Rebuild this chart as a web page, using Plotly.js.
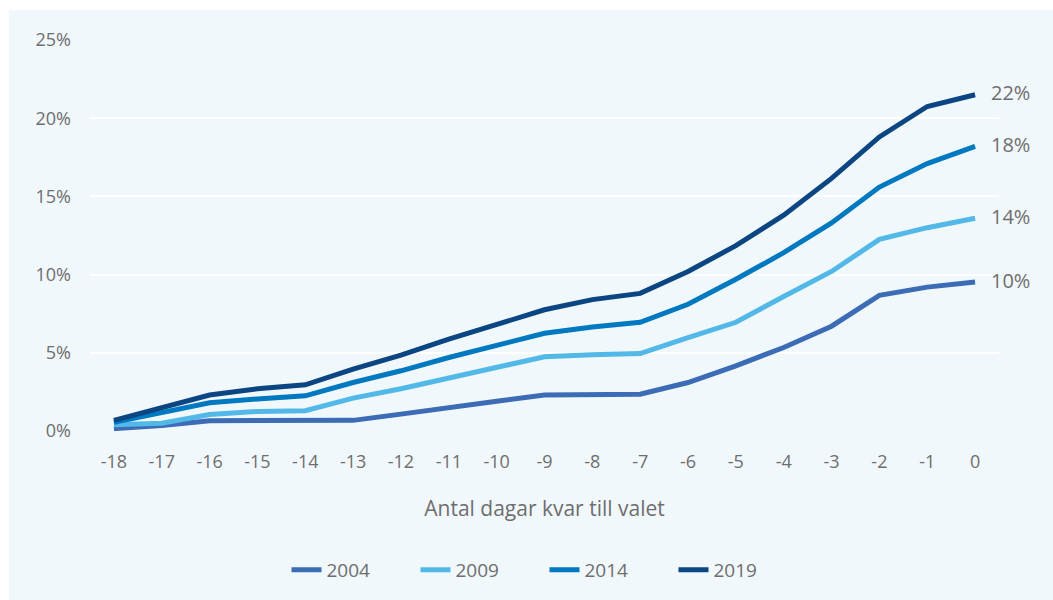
<!DOCTYPE html>
<html>
<head>
<meta charset="utf-8">
<script src="https://cdn.plot.ly/plotly-3.0.1.min.js"></script>
<style>
  html, body { margin: 0; padding: 0; background: #ffffff; }
  #chart { position: absolute; left: 9px; top: 10px; width: 1044px; height: 590px; }
</style>
</head>
<body>
<div id="chart"></div>
<script>
// Days left until the election
const days = ["-18","-17","-16","-15","-14","-13","-12","-11","-10","-9","-8","-7","-6","-5","-4","-3","-2","-1","0"];

// Share of votes cast (%) per election year
const y2004 = [0.15, 0.35, 0.66, 0.68, 0.68, 0.68, 1.08, 1.45, 1.9, 2.3, 2.35, 2.35, 3.1, 4.17, 5.34, 6.7, 8.67, 9.2, 9.52];
const y2009 = [0.4, 0.5, 1.05, 1.25, 1.3, 2.1, 2.7, 3.4, 4.05, 4.75, 4.87, 4.95, 5.97, 6.95, 8.6, 10.2, 12.25, 13.0, 13.6];
const y2014 = [0.55, 1.2, 1.8, 2.05, 2.25, 3.1, 3.85, 4.7, 5.45, 6.25, 6.65, 6.95, 8.1, 9.7, 11.4, 13.3, 15.6, 17.1, 18.2];
const y2019 = [0.68, 1.5, 2.3, 2.7, 2.95, 3.95, 4.85, 5.87, 6.8, 7.75, 8.4, 8.8, 10.2, 11.85, 13.8, 16.15, 18.8, 20.75, 21.5];

const years = ["2004", "2009", "2014", "2019"];
const series = [y2004, y2009, y2014, y2019];
const endLabels = ["10%", "14%", "18%", "22%"];
const colors = ["#3C6CB6", "#52B8E7", "#0079C1", "#0B4682"];

const font = "'Open Sans', 'Noto Sans', sans-serif";
const grey = "#6e6e6e";

const traces = series.map((s, i) => ({
  type: "scatter",
  mode: "lines",
  name: years[i],
  x: days,
  y: s,
  line: { color: colors[i], width: 5 },
  hoverinfo: "skip"
}));

const lastIdx = days.length - 1;
const annotations = series.map((s, i) => ({
  x: lastIdx,
  y: s[s.length - 1],
  xref: "x", yref: "y",
  text: endLabels[i],
  showarrow: false,
  xanchor: "left",
  yanchor: "middle",
  xshift: 14,
  yshift: 2,
  font: { family: font, size: 20, color: grey }
}));

const layout = {
  width: 1044,
  height: 590,
  paper_bgcolor: "#F1F8FC",
  plot_bgcolor: "#F1F8FC",
  margin: { l: 81, r: 54, t: 30, b: 168 },
  font: { family: font, color: grey },
  showlegend: true,
  legend: {
    orientation: "h",
    x: 0.5, xanchor: "center",
    y: -0.352, yanchor: "middle",
    font: { family: font, size: 19, color: grey },
    entrywidth: 84,
    entrywidthmode: "pixels",
    tracegroupgap: 0,
    bgcolor: "rgba(0,0,0,0)"
  },
  xaxis: {
    type: "category",
    range: [-0.5, 18.5],
    showgrid: false,
    zeroline: false,
    showline: false,
    ticks: "",
    ticklabelstandoff: 18,
    tickfont: { family: font, size: 18, color: grey },
    title: {
      text: "Antal dagar kvar till valet",
      font: { family: font, size: 21, color: grey },
      standoff: 29
    },
    fixedrange: true
  },
  yaxis: {
    range: [0, 25],
    tickvals: [0, 5, 10, 15, 20, 25],
    ticktext: ["0%", "5%", "10%", "15%", "20%", "25%"],
    showgrid: true,
    gridcolor: "#ffffff",
    gridwidth: 2,
    zeroline: false,
    showline: false,
    ticks: "",
    ticklabelstandoff: 18,
    tickfont: { family: font, size: 18, color: grey },
    fixedrange: true
  },
  annotations: annotations
};

Plotly.newPlot("chart", traces, layout, { displayModeBar: false, staticPlot: true });
</script>
</body>
</html>
